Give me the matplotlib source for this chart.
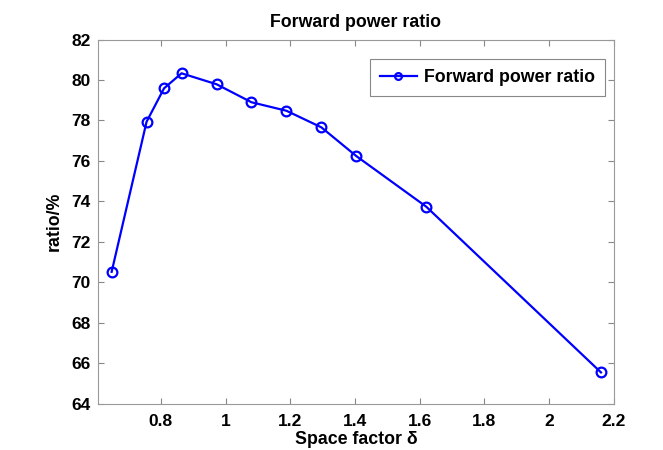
import matplotlib
matplotlib.use('Agg')
import matplotlib.pyplot as plt

plt.rcParams['font.family'] = ['Liberation Sans', 'DejaVu Sans']
plt.rcParams['font.weight'] = 'bold'

# data
space_factor = [0.648, 0.756, 0.810, 0.864, 0.972, 1.080, 1.188, 1.296, 1.404, 1.620, 2.160]
forward_ratio = [70.52, 77.94, 79.59, 80.33, 79.79, 78.90, 78.48, 77.66, 76.24, 73.74, 65.55]

xticks = [0.8, 1, 1.2, 1.4, 1.6, 1.8, 2, 2.2]
xticklabels = ['0.8', '1', '1.2', '1.4', '1.6', '1.8', '2', '2.2']
yticks = [64, 66, 68, 70, 72, 74, 76, 78, 80, 82]

fig = plt.figure(figsize=(6.63, 4.5), dpi=100)
ax = fig.add_axes([0.1474, 0.1027, 0.7786, 0.8095])

ax.plot(space_factor, forward_ratio, '-o', color='#0000ff', lw=1.6,
        markersize=7, markerfacecolor='none', markeredgewidth=1.6,
        label='Forward power ratio')

ax.set_xlim(0.605, 2.2)
ax.set_ylim(64, 82)
ax.set_xticks(xticks)
ax.set_xticklabels(xticklabels)
ax.set_yticks(yticks)
ax.tick_params(direction='in', top=True, right=True, length=4, width=0.8,
               color='#888888', labelsize=12.5)
ax.tick_params(axis='x', pad=7)
ax.tick_params(axis='y', pad=5)
for lab in ax.get_xticklabels() + ax.get_yticklabels():
    lab.set_fontweight('bold')
for s in ax.spines.values():
    s.set_color('#999999')
    s.set_linewidth(0.8)

ax.set_title('Forward power ratio', fontsize=12.8, fontweight='bold', pad=9)
ax.set_xlabel('Space factor \u03b4', fontsize=12.8, fontweight='bold', labelpad=2)
ax.set_ylabel('ratio/%', fontsize=12.8, fontweight='bold', labelpad=6)

# legend box sits a bit below the top edge, like the MATLAB one
leg = ax.legend(loc='upper right', bbox_to_anchor=(0.9826, 0.9465),
                fontsize=12.8, fancybox=False, handlelength=2.1,
                borderaxespad=0, borderpad=0.55, handletextpad=0.4,
                framealpha=1, markerscale=0.7)
leg.get_frame().set_edgecolor('#888888')
leg.get_frame().set_linewidth(0.8)

plt.savefig('out.png', dpi=100)
